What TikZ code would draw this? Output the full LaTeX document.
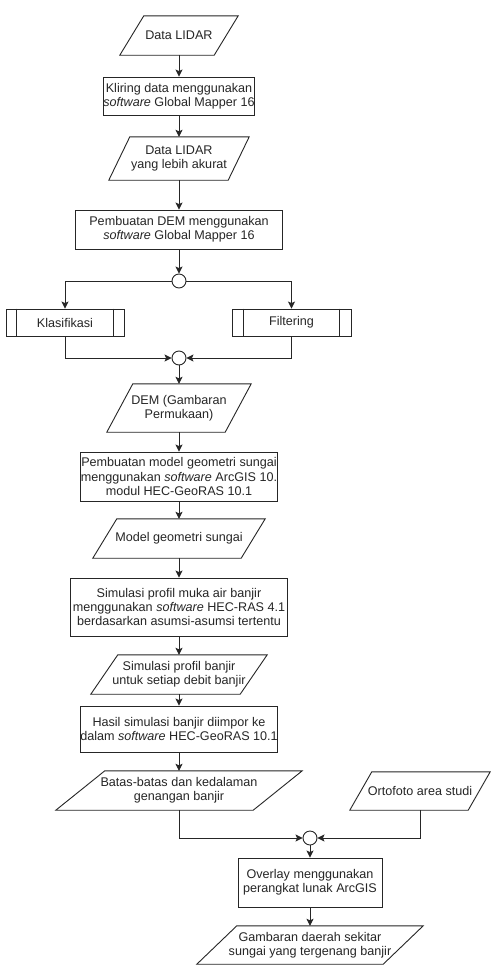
\documentclass[tikz,border=0pt]{standalone}
\usepackage{fontspec}
\setmainfont{Liberation Sans}
\usetikzlibrary{arrows.meta}
\tikzset{
  ln/.style={draw=black!85, line width=0.9pt},
  txt/.style={inner sep=0pt, align=center, font=\fontsize{12.6}{14.3}\selectfont, text=black!85},
  box/.style={txt, ln, rectangle},
  arr/.style={ln, -{Stealth[length=7pt,width=7pt,inset=1.5pt]}},
  junc/.style={circle, ln, fill=white, minimum size=14pt, inner sep=0pt}
}
\newcommand\pgram[7]{%
  \node[txt, minimum width={#3-#2}, minimum height={#5-#4}] (#1) at ({(#2+#3)/2},{(#4+#5)/2}) {#7};
  \draw[ln, line join=miter] ([xshift=#6pt]#1.north west) -- (#1.north east) -- ([xshift=-#6pt]#1.south east) -- (#1.south west) -- cycle;
}
\newcommand\pbox[6]{%
  \node[box, minimum width=#4, minimum height=#5] (#1) at (#2,#3) {#6};
}
\begin{document}
\begin{tikzpicture}[x=1pt,y=-1pt]
\useasboundingbox[fill=white] (0,0) rectangle (493,975);

\pgram{d1}{120}{238}{16}{55}{24}{Data LIDAR}
\pbox{p1}{179}{96}{149}{38}{Kliring data menggunakan\\\textit{software} Global Mapper 16}
\pgram{d2}{109}{249}{137}{180}{21}{Data LIDAR\\yang lebih akurat}
\pbox{p2}{179}{229.5}{207}{39}{Pembuatan DEM menggunakan\\\textit{software} Global Mapper 16}
\node[junc] (c1) at (179,281) {};
\pbox{k}{65}{322.5}{118}{27}{Klasifikasi}
\pbox{f}{291.5}{322.5}{119}{27}{Filtering}
\draw[ln] ([xshift=11pt]k.north west) -- ([xshift=11pt]k.south west);
\draw[ln] ([xshift=-11pt]k.north east) -- ([xshift=-11pt]k.south east);
\draw[ln] ([xshift=12pt]f.north west) -- ([xshift=12pt]f.south west);
\draw[ln] ([xshift=-12pt]f.north east) -- ([xshift=-12pt]f.south east);
\node[junc] (c2) at (179,358) {};
\pgram{d3}{107}{251}{384}{432}{26}{DEM (Gambaran\\Permukaan)}
\pbox{p3}{179}{476.5}{197}{49}{Pembuatan model geometri sungai\\menggunakan \textit{software} ArcGIS 10.\\modul HEC-GeoRAS 10.1}
\pgram{d4}{93}{265}{519}{558}{24}{Model geometri sungai}
\pbox{p4}{179}{607}{217}{58}{Simulasi profil muka air banjir\\menggunakan \textit{software} HEC-RAS 4.1\\berdasarkan asumsi-asumsi tertentu}
\pgram{d5}{91}{267}{655}{694}{27}{Simulasi profil banjir\\untuk setiap debit banjir}
\pbox{p5}{179}{729}{192}{46}{Hasil simulasi banjir diimpor ke\\dalam \textit{software} HEC-GeoRAS 10.1}
\pgram{d6}{56}{302}{771}{810}{49}{Batas-batas dan kedalaman\\genangan banjir}
\pgram{d7}{350}{490}{772}{810}{22}{Ortofoto area studi}
\node[junc] (c3) at (310,838) {};
\pbox{p6}{310}{882.5}{144}{49}{Overlay menggunakan\\perangkat lunak ArcGIS}
\pgram{d8}{197}{423}{926}{964}{40}{Gambaran daerah sekitar\\sungai yang tergenang banjir}

\draw[arr] (d1.south) -- (p1.north);
\draw[arr] (p1.south) -- (d2.north);
\draw[arr] (d2.south) -- (p2.north);
\draw[arr] (p2.south) -- (c1.north);
\draw[arr] (c1.west) -| (k.north);
\draw[arr] (c1.east) -| (f.north);
\draw[arr] (k.south) |- (c2.west);
\draw[arr] (f.south) |- (c2.east);
\draw[arr] (c2.south) -- (d3.north);
\draw[arr] (d3.south) -- (p3.north);
\draw[arr] (p3.south) -- (d4.north);
\draw[arr] (d4.south) -- (p4.north);
\draw[arr] (p4.south) -- (d5.north);
\draw[arr] (d5.south) -- (p5.north);
\draw[arr] (p5.south) -- (d6.north);
\draw[arr] (d6.south) |- (c3.west);
\draw[arr] (d7.south) |- (c3.east);
\draw[arr] (c3.south) -- (p6.north);
\draw[arr] (p6.south) -- (d8.north);
\end{tikzpicture}
\end{document}
